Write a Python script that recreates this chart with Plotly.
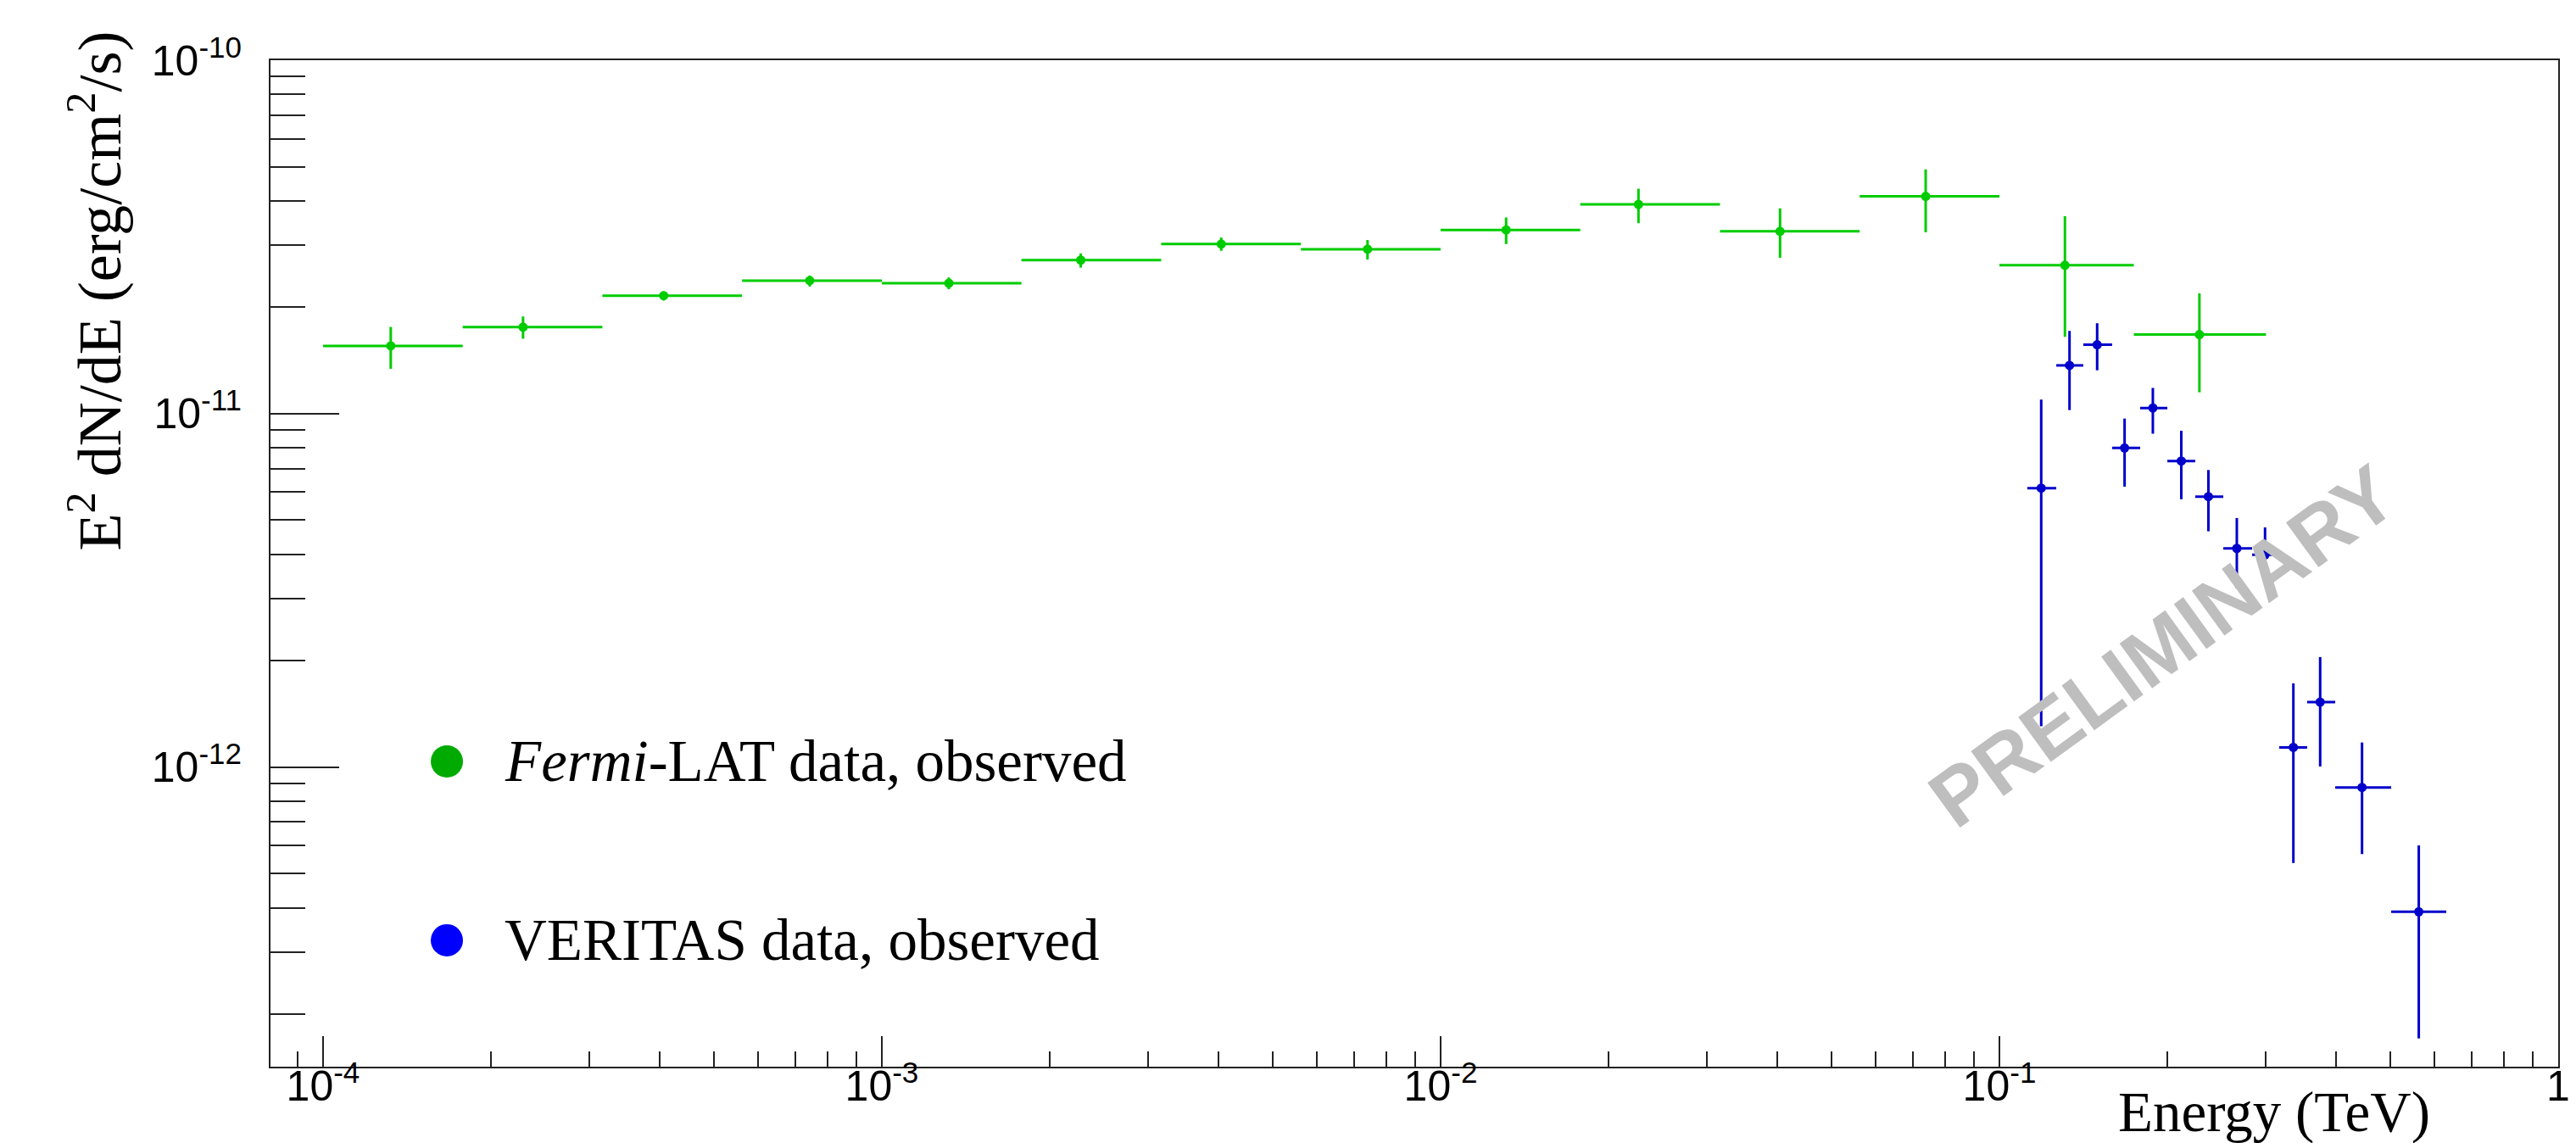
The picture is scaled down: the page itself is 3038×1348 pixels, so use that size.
import plotly.graph_objects as go

# ---------------- data ----------------
# Fermi-LAT: energy (TeV), bin edges, E^2 dN/dE (erg/cm^2/s) and error-bar ends
fermi_E = [1.322e-4, 2.28e-4, 4.07e-4, 7.43e-4, 1.318e-3, 2.27e-3, 4.05e-3, 7.40e-3,
           1.31e-2, 2.26e-2, 4.05e-2, 7.38e-2, 0.131, 0.228]
fermi_E_lo = [1.0e-4, 1.778e-4, 3.162e-4, 5.623e-4, 1.0e-3, 1.778e-3, 3.162e-3, 5.623e-3,
              1.0e-2, 1.778e-2, 3.162e-2, 5.623e-2, 0.1, 0.174]
fermi_E_hi = [1.778e-4, 3.162e-4, 5.623e-4, 1.0e-3, 1.778e-3, 3.162e-3, 5.623e-3, 1.0e-2,
              1.778e-2, 3.162e-2, 5.623e-2, 0.1, 0.174, 0.300]
fermi_F = [1.556e-11, 1.758e-11, 2.158e-11, 2.38e-11, 2.34e-11, 2.72e-11, 3.02e-11, 2.92e-11,
           3.31e-11, 3.91e-11, 3.28e-11, 4.12e-11, 2.63e-11, 1.675e-11]
fermi_F_hi = [1.76e-11, 1.884e-11, 2.22e-11, 2.46e-11, 2.43e-11, 2.84e-11, 3.15e-11, 3.10e-11,
              3.59e-11, 4.33e-11, 3.81e-11, 4.91e-11, 3.62e-11, 2.19e-11]
fermi_F_lo = [1.34e-11, 1.63e-11, 2.09e-11, 2.29e-11, 2.25e-11, 2.59e-11, 2.89e-11, 2.73e-11,
              3.02e-11, 3.46e-11, 2.76e-11, 3.26e-11, 1.65e-11, 1.15e-11]

# VERITAS
ver_E = [0.1188, 0.1335, 0.1496, 0.1675, 0.1882, 0.2116, 0.2366, 0.2660, 0.2988,
         0.3358, 0.3750, 0.4456, 0.5630]
ver_E_lo = [0.1122, 0.1264, 0.1413, 0.1591, 0.1786, 0.1998, 0.2241, 0.2516, 0.2833,
            0.3168, 0.3554, 0.3990, 0.5025]
ver_E_hi = [0.1264, 0.1413, 0.1591, 0.1786, 0.1998, 0.2241, 0.2516, 0.2833, 0.3168,
            0.3554, 0.3990, 0.5025, 0.6305]
ver_F = [6.16e-12, 1.370e-11, 1.567e-11, 8.0e-12, 1.038e-11, 7.35e-12, 5.83e-12, 4.16e-12,
         3.99e-12, 1.138e-12, 1.528e-12, 8.77e-13, 3.90e-13]
ver_F_hi = [1.096e-11, 1.715e-11, 1.803e-11, 9.69e-12, 1.183e-11, 8.95e-12, 6.93e-12, 5.07e-12,
            4.77e-12, 1.727e-12, 2.05e-12, 1.175e-12, 6.01e-13]
ver_F_lo = [1.306e-12, 1.024e-11, 1.327e-11, 6.22e-12, 8.78e-12, 5.73e-12, 4.65e-12, 3.21e-12,
            3.58e-12, 5.36e-13, 1.005e-12, 5.68e-13, 1.71e-13]

x_major = [1e-4, 1e-3, 1e-2, 1e-1, 1.0]
x_major_text = ["10<sup>-4</sup>", "10<sup>-3</sup>", "10<sup>-2</sup>", "10<sup>-1</sup>", "1"]
y_major = [1e-12, 1e-11, 1e-10]
y_major_text = ["10<sup>-12</sup>", "10<sup>-11</sup>", "10<sup>-10</sup>"]

legend_labels = ["<i>Fermi</i>-LAT data, observed", "VERITAS data, observed"]
legend_colors = ["#00aa00", "#0000ff"]

# ---------------- figure ----------------
fig = go.Figure()


def add_series(E, lo, hi, F, Fhi, Flo, color):
    fig.add_trace(go.Scatter(
        x=E, y=F, mode="markers",
        marker=dict(color=color, size=11, line=dict(width=0)),
        error_y=dict(type="data", symmetric=False,
                     array=[h - f for h, f in zip(Fhi, F)],
                     arrayminus=[f - l for f, l in zip(F, Flo)],
                     color=color, thickness=3, width=0),
        error_x=dict(type="data", symmetric=False,
                     array=[h - e for h, e in zip(hi, E)],
                     arrayminus=[e - l for e, l in zip(E, lo)],
                     color=color, thickness=3, width=0),
        showlegend=False, hoverinfo="x+y"))


add_series(fermi_E, fermi_E_lo, fermi_E_hi, fermi_F, fermi_F_hi, fermi_F_lo, "#00cc00")
add_series(ver_E, ver_E_lo, ver_E_hi, ver_F, ver_F_hi, ver_F_lo, "#0000cc")

x_minor = [9e-5] + [m * 10 ** k for k in (-4, -3, -2, -1) for m in range(2, 10)]
y_minor = [m * 10 ** k for k in (-13, -12, -11) for m in range(2, 10) if m * 10 ** k > 1.45e-13]

tickfont = dict(family="Liberation Sans, Arial, sans-serif", size=50, color="black")

fig.update_xaxes(
    type="log", range=[-4.094, 0.0],
    showline=True, mirror=True, linecolor="#222222", linewidth=2,
    showgrid=False, zeroline=False,
    tickmode="array", tickvals=x_major, ticktext=x_major_text,
    ticks="inside", ticklen=36, tickwidth=2, tickcolor="#222222",
    tickfont=tickfont, ticklabelstandoff=-22,
    minor=dict(tickmode="array", tickvals=x_minor, ticks="inside", ticklen=18,
               tickwidth=2, tickcolor="#222222", showgrid=False),
)
fig.update_yaxes(
    type="log", range=[-12.847, -10.0],
    showline=True, mirror=True, linecolor="#222222", linewidth=2,
    showgrid=False, zeroline=False,
    tickmode="array", tickvals=y_major, ticktext=y_major_text,
    ticks="inside", ticklen=81, tickwidth=2, tickcolor="#222222",
    tickfont=tickfont, ticklabelstandoff=22,
    minor=dict(tickmode="array", tickvals=y_minor, ticks="inside", ticklen=41,
               tickwidth=2, tickcolor="#222222", showgrid=False),
)

serif = "Liberation Serif, Times New Roman, serif"
annotations = [
    dict(text="E<sup>2</sup> dN/dE (erg/cm<sup>2</sup>/s)", textangle=-90,
         xref="paper", yref="paper", x=-0.0765, y=0.771, xanchor="center", yanchor="middle",
         showarrow=False, font=dict(family=serif, size=72, color="black")),
    dict(text="Energy (TeV)", xref="paper", yref="paper", x=0.9448, y=-0.0447,
         xanchor="right", yanchor="middle", showarrow=False,
         font=dict(family=serif, size=67, color="black")),
    dict(text="PRELIMINARY", textangle=-36, xref="paper", yref="paper", x=0.827, y=0.418,
         xanchor="center", yanchor="middle", showarrow=False,
         font=dict(family="Liberation Sans, Arial, sans-serif", size=95, color="#bebebe",
                   weight="bold")),
]
legend_y = [0.3033, 0.1256]
shapes = []
for lab, col, ly in zip(legend_labels, legend_colors, legend_y):
    annotations.append(dict(text=lab, xref="paper", yref="paper", x=0.1016, y=ly,
                            xanchor="left", yanchor="middle", showarrow=False,
                            font=dict(family=serif, size=69, color="black")))
    shapes.append(dict(type="circle", xref="paper", yref="paper",
                       xsizemode="pixel", ysizemode="pixel",
                       xanchor=0.0771, yanchor=ly, x0=-19, x1=19, y0=-19, y1=19,
                       fillcolor=col, line=dict(width=0)))

fig.update_layout(
    width=3038, height=1348,
    margin=dict(l=311, r=29, t=63, b=98),
    paper_bgcolor="white", plot_bgcolor="white",
    showlegend=False,
    annotations=annotations, shapes=shapes,
)

fig.write_html("out.html")
